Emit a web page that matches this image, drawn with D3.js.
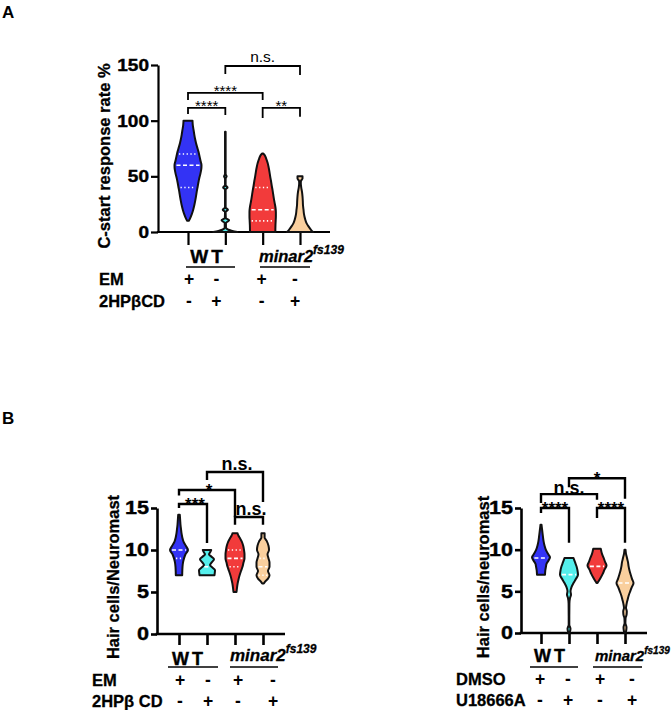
<!DOCTYPE html>
<html><head><meta charset="utf-8">
<script src="https://cdn.jsdelivr.net/npm/d3@7"></script>
<style>body{margin:0;background:#fff} text{font-family:"Liberation Sans",Arial,sans-serif}</style>
</head><body><svg id="c" width="672" height="710"></svg>
<script>
// ---------- DATA ----------
const groups = ["WT +", "WT treat", "minar2 +", "minar2 treat"];
const colors = ["#3333f5", "#55efec", "#f23b3b", "#f9cf9e"];
const ticksA = [0, 50, 100, 150];
const ticksB = [0, 5, 10, 15];
const rowA1 = ["+", "-", "+", "-"];
const rowA2 = ["-", "+", "-", "+"];
// violin density profiles [value, half-width density]
const vA0 = [[100,4.5],[96,4.8],[92,5.5],[88,6.2],[84,7],[80,8],[76,9.2],[72,10.5],[68,11.5],[64,12.5],[60,13.5],[56,13.2],[52,12.3],[48,11.2],[44,10.3],[40,9.5],[36,8.7],[32,8],[28,7.2],[24,6.3],[20,5.2],[16,3.8],[12,2],[10,0.8]];
const vA1 = [[90,0.3],[60,0.3],[52,0.3],[50,1.3],[48,0.3],[42,0.3],[40,2.2],[38,0.3],[22,0.3],[20,2.6],[18,0.3],[12.5,0.5],[10.5,3.8],[8,0.6],[4,0.6],[2,3],[1,7],[0,12]];
const vA2 = [[70.5,0.5],[69,2],[66,3.5],[62,5],[58,6],[54,6.8],[50,7.5],[46,8.3],[42,9],[38,9.8],[34,10.5],[30,11.2],[26,12],[22,12.8],[18,13.2],[14,13.2],[10,13],[6,12.8],[2,12.7],[0,12.7]];
const vA3 = [[50,2.5],[48,2.5],[46,1],[44,0.8],[40,1.2],[36,2],[32,2.5],[28,2.8],[24,3],[20,3.5],[16,4],[12,5],[8,6.5],[5,8.5],[2,11],[0,13]];
const medA = [60, null, 20, null];
const quartA = [[40,70], [], [10,40], []];

const vBL0 = [[14.2,0.8],[13.5,1.2],[13,1.5],[12.5,2],[12,2.5],[11.5,3.3],[11,4.5],[10.5,6.8],[10,9],[9.5,6.5],[9,5],[8.5,4],[8,3.5],[7.5,3.3],[7,3.2]];
const vBL1 = [[10,4.2],[9.7,3],[9.5,2],[9.2,4.5],[8.9,7],[8.5,4.5],[8.2,3],[7.9,5.5],[7.6,8],[7.3,7.8],[7,7.5]];
const vBL2 = [[12,2.5],[11.7,3.5],[11.4,5],[11,6.8],[10.5,8.2],[10,9],[9.5,9.5],[9,9.5],[8.5,8.5],[8,7.5],[7.5,6],[7,4.6],[6.5,3.5],[6,2.6],[5.5,2],[5,1.5]];
const vBL3 = [[12,1.6],[11.5,1.6],[11.2,3],[11,4],[10.5,5.5],[10,6],[9.5,4.5],[9,5.5],[8.5,6.5],[8,6.5],[7.5,5],[7,6.5],[6.6,5],[6.3,2.5],[6,0.8]];
const medBL = [10, 8, 9, 8];
const quartBL = [[9], [], [8,10], [7,9]];

const vBR0 = [[13,0.5],[12.5,1],[12,1.5],[11.5,2],[11,2.6],[10.5,3.5],[10,4.8],[9.5,7],[9.1,9],[8.7,7.5],[8.3,5.5],[8,5],[7.5,4.3],[7,4]];
const vBR1 = [[9,4.5],[8.5,6],[8,7.5],[7.5,8.5],[7,9],[6.5,7],[6,4.5],[5.5,2.5],[5,1.5],[4.6,2],[4.2,1],[3.5,0.4],[2,0.3],[1,0.3],[0.5,1.5],[0,0.5]];
const vBR2 = [[10.1,3.8],[9.5,5],[9,6.7],[8.5,8.2],[8.1,9.5],[7.6,7.5],[7.1,5.7],[6.6,3.5],[6.2,1.5],[6,0.5]];
const vBR3 = [[10,0.5],[9.5,1],[9,2],[8.5,3],[8,3.6],[7.5,4.5],[7,5.7],[6.5,7],[6,8.5],[5.5,6.8],[5,5.2],[4.5,3.7],[4,2.6],[3.5,1.6],[3,1],[2.6,1.8],[2.2,1.6],[1.8,0.6],[1.2,0.4],[0.7,1.5],[0.3,1.2],[0,0.4]];
const medBR = [9, 7, 8, 6];
const quartBR = [[], [], [], []];

// significance brackets: [i, j, top value, left-leg end value, right-leg end value, label]
const brA = [[0,1,111.4,106,105,"****"],[0,2,124.9,118.6,118.6,"****"],[1,3,149.1,142,141,"n.s."],[2,3,111.4,102.5,103.5,"**"]];
const brBL = [[0,1,15.48,15,10.83,"***"],[0,2,17.14,16.5,13.9,"*"],[2,3,13.93,13,13,"n.s."],[1,3,19.29,18.33,15.7,"n.s."]];
const brBR = [[0,1,15,14.4,10.83,"****"],[2,3,15,13.8,10.83,"****"],[0,2,16.67,15.6,16,"n.s."],[1,3,18.57,17.5,16.1,"*"]];

// ---------- DRAW ----------
const svg = d3.select("#c");
const F = '"Liberation Sans", Arial, sans-serif';

function panel(o) {
  const g = svg.append("g");
  const y = d3.scaleLinear().domain(o.yDomain).range(o.yRange);
  const x = d3.scalePoint().domain(groups).range(o.xRange);
  const w = d3.scaleLinear().domain([0, 13]).range([0, 13 * o.wk]);
  // y axis
  const ya = g.append("g").attr("transform", `translate(${o.axisX},0)`)
    .call(d3.axisLeft(y).tickValues(o.ticks).tickSize(o.tl).tickSizeOuter(0).tickPadding(2));
  ya.select(".domain").attr("stroke-width", o.sw).attr("stroke", "#000");
  ya.selectAll(".tick line").attr("stroke-width", o.sw);
  ya.selectAll(".tick text").attr("font-family", F).attr("font-weight", "bold")
    .attr("font-size", o.tfs).attr("fill", "#000").attr("stroke", "#000").attr("stroke-width", 0.4)
    .attr("transform", `scale(${o.tsx},1)`).attr("x", -(o.tl + 2) / o.tsx);
  // x axis
  g.append("line").attr("x1", o.axisX - o.sw / 2).attr("x2", o.xEnd)
    .attr("y1", y(0)).attr("y2", y(0)).attr("stroke", "#000").attr("stroke-width", o.sw);
  const xa = g.append("g").attr("transform", `translate(0,${y(0)})`)
    .call(d3.axisBottom(x).tickSize(o.xtl).tickFormat(""));
  xa.select(".domain").remove();
  xa.selectAll(".tick line").attr("stroke-width", o.sw);
  // y label
  g.append("text").attr("transform", `translate(${o.ylX},${o.ylY}) rotate(-90)`)
    .attr("text-anchor", "middle").attr("font-family", F).attr("font-weight", "bold")
    .attr("stroke", "#000").attr("stroke-width", 0.3)
    .attr("font-size", o.ylfs).text(o.yLabel);
  // violins
  const area = d3.area().curve(d3.curveMonotoneY);
  o.violins.forEach((prof, i) => {
    const cx = x(groups[i]);
    area.y(d => y(d[0])).x0(d => cx - w(d[1])).x1(d => cx + w(d[1]));
    g.append("path").attr("d", area(prof)).attr("fill", colors[i])
      .attr("stroke", "#111").attr("stroke-width", o.vsw).attr("stroke-linejoin", "round");
    const hw = d3.scaleLinear().domain(prof.map(p => p[0])).range(prof.map(p => p[1]));
    const lineAt = (v, dash) => {
      const h = Math.max(w(hw(v)) - o.vsw, 0);
      g.append("line").attr("x1", cx - h).attr("x2", cx + h).attr("y1", y(v)).attr("y2", y(v))
        .attr("stroke", "#fff").attr("stroke-width", 1.6).attr("stroke-dasharray", dash);
    };
    if (o.med[i] != null) lineAt(o.med[i], "4,2.5");
    o.quart[i].forEach(q => lineAt(q, "1.3,2.5"));
  });
  // brackets
  o.br.forEach(b => {
    const x1 = x(groups[b[0]]), x2 = x(groups[b[1]]);
    g.append("path").attr("d", `M${x1},${y(b[3])}V${y(b[2])}H${x2}V${y(b[4])}`)
      .attr("fill", "none").attr("stroke", "#000").attr("stroke-width", o.bsw);
    const star = b[5].indexOf("*") >= 0;
    g.append("text").attr("x", (x1 + x2) / 2 + (o.lblDx || 0)).attr("y", y(b[2]) + (star ? o.starDy : o.nsDy))
      .attr("text-anchor", "middle").attr("font-family", F)
      .attr("font-weight", o.lblBold ? "bold" : "normal")
      .attr("font-size", star ? o.starFs : o.nsFs).text(b[5]);
  });
  // group labels
  const gl = o.gl;
  g.append("text").attr("x", gl.wtX).attr("y", gl.wtY).attr("text-anchor", "middle")
    .attr("font-family", F).attr("font-weight", "bold").attr("font-size", gl.fs)
    .attr("stroke", "#000").attr("stroke-width", 0.4)
    .attr("letter-spacing", gl.ls).text("WT");
  const mt = g.append("text").attr("x", gl.mX).attr("y", gl.mY).attr("font-family", F)
    .attr("font-weight", "bold").attr("font-style", "italic").attr("font-size", gl.mfs)
    .attr("stroke", "#000").attr("stroke-width", 0.3);
  mt.append("tspan").text("minar2");
  mt.append("tspan").attr("font-size", gl.sfs).attr("dy", -gl.sup).text("fs139");
  gl.lines.forEach(l => g.append("line").attr("x1", l[0]).attr("x2", l[1]).attr("y1", gl.lineY).attr("y2", gl.lineY)
    .attr("stroke", "#000").attr("stroke-width", 1.6));
  // treatment rows
  o.rows.forEach(r => {
    g.append("text").attr("x", o.rowX).attr("y", r.y).attr("font-family", F).attr("font-weight", "bold")
      .attr("stroke", "#000").attr("stroke-width", 0.3)
      .attr("font-size", o.rowFs).text(r.label);
    r.signs.forEach((s, i) => {
      g.append("text").attr("x", x(groups[i]) + o.signDx[i]).attr("y", r.y).attr("text-anchor", "middle")
        .attr("font-family", F).attr("font-weight", "bold").attr("font-size", o.rowFs + 1).text(s);
    });
  });
}

// panel letters
svg.append("text").attr("x", 2).attr("y", 18).attr("font-family", F).attr("font-weight", "bold").attr("font-size", 17).text("A");
svg.append("text").attr("x", 2).attr("y", 424).attr("font-family", F).attr("font-weight", "bold").attr("font-size", 17).text("B");

panel({
  yDomain: [0, 150], yRange: [232, 65], xRange: [188, 300], axisX: 158, xEnd: 330,
  ticks: ticksA, tl: 7, xtl: 13, sw: 2.2, tfs: 17, tsx: 1.12, wk: 1,
  ylX: 110, ylY: 156, ylfs: 16.5, yLabel: "C-start response rate %",
  violins: [vA0, vA1, vA2, vA3], med: medA, quart: quartA, vsw: 2,
  br: brA, bsw: 1.8, starDy: 3.5, nsDy: -4, starFs: 15, nsFs: 15.5, lblBold: false,
  gl: { wtX: 208, wtY: 263, fs: 19, ls: 3, mX: 259, mY: 262, mfs: 16.5, sfs: 12, sup: 8,
        lineY: 267, lines: [[186, 235], [260, 310]] },
  rowX: 99, rowFs: 16.5, signDx: [1, -9, -1, -5],
  rows: [{ label: "EM", y: 285, signs: rowA1 }, { label: "2HPβCD", y: 307, signs: rowA2 }]
});

panel({
  yDomain: [0, 15], yRange: [634, 508], xRange: [179, 263], axisX: 157, xEnd: 285,
  ticks: ticksB, tl: 6, xtl: 11, sw: 2.6, tfs: 18, tsx: 1.2, wk: 1,
  ylX: 119, ylY: 577, ylfs: 16.5, yLabel: "Hair cells/Neuromast",
  violins: [vBL0, vBL1, vBL2, vBL3], med: medBL, quart: quartBL, vsw: 2,
  br: brBL, bsw: 2.4, starDy: 6, nsDy: -2, starFs: 17, nsFs: 18, lblBold: true, lblDx: 2,
  gl: { wtX: 189, wtY: 665, fs: 18, ls: 3, mX: 230, mY: 661, mfs: 17, sfs: 12, sup: 8,
        lineY: 667, lines: [[168, 218], [230, 278]] },
  rowX: 92, rowFs: 16.5, signDx: [1, 1, 3, 10],
  rows: [{ label: "EM", y: 686, signs: rowA1 }, { label: "2HPβ CD", y: 707, signs: rowA2 }]
});

panel({
  yDomain: [0, 15], yRange: [633, 508], xRange: [541, 625], axisX: 521, xEnd: 647,
  ticks: ticksB, tl: 6, xtl: 11, sw: 2.6, tfs: 18, tsx: 1.2, wk: 1,
  ylX: 489, ylY: 577, ylfs: 16.5, yLabel: "Hair cells/neuromast",
  violins: [vBR0, vBR1, vBR2, vBR3], med: medBR, quart: quartBR, vsw: 2,
  br: brBR, bsw: 2.4, starDy: 6, nsDy: 0, starFs: 17, nsFs: 18, lblBold: true, lblDx: 0,
  gl: { wtX: 551, wtY: 662, fs: 18, ls: 3, mX: 595, mY: 661, mfs: 15, sfs: 10, sup: 7,
        lineY: 667, lines: [[530, 578], [593, 642]] },
  rowX: 456, rowFs: 16.5, signDx: [-1, -1, 3, 7],
  rows: [{ label: "DMSO", y: 685, signs: rowA1 }, { label: "U18666A", y: 706, signs: rowA2 }]
});
</script></body></html>
